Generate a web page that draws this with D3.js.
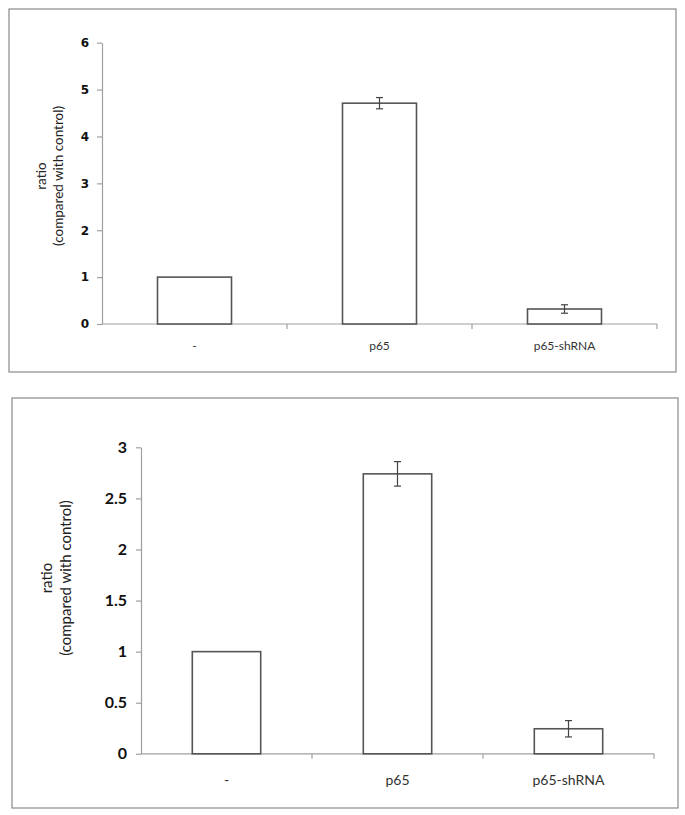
<!DOCTYPE html>
<html>
<head>
<meta charset="utf-8">
<script src="https://cdn.jsdelivr.net/npm/d3@7"></script>
<style>
  body { margin: 0; background: #fff; }
  .frame { fill: none; stroke: #8a8a8a; stroke-width: 1.2; }
  .axis path, .axis line { stroke: #a0a0a0; stroke-width: 1.2; }
  .bar { fill: #fff; stroke: #555; stroke-width: 1.6; }
  .err { stroke: #444; stroke-width: 1.2; }
</style>
</head>
<body>
<div class="chart"></div>
<script>
// data
const categories = ['-', 'p65', 'p65-shRNA'];
const valuesA = [1.0, 4.71, 0.32];
const errorsA = [0, 0.12, 0.09];
const ticksA = [0, 1, 2, 3, 4, 5, 6];
const valuesB = [1.0, 2.74, 0.245];
const errorsB = [0, 0.12, 0.08];
const ticksB = [0, 0.5, 1, 1.5, 2, 2.5, 3];
const yTitle = ['ratio', '(compared with control)'];

const svg = d3.select('.chart')
  .append('svg')
  .attr('width', 685)
  .attr('height', 815);

function drawPanel(p) {
  // outer box
  svg.append('rect')
    .attr('class', 'frame')
    .attr('x', p.frame[0]).attr('y', p.frame[1])
    .attr('width', p.frame[2]).attr('height', p.frame[3]);

  const g = svg.append('g')
    .attr('transform', `translate(${p.left},${p.top})`);

  const xScale = d3.scaleBand()
    .domain(categories)
    .range([0, p.width])
    .paddingInner(0.6)
    .paddingOuter(0.3);

  const yScale = d3.scaleLinear()
    .domain([0, d3.max(p.ticks)])
    .range([p.height, 0]);

  // y axis
  const yAxis = g.append('g')
    .attr('class', 'axis')
    .call(d3.axisLeft(yScale).tickValues(p.ticks).tickSize(5).tickSizeOuter(0).tickPadding(p.tickPad).tickFormat(d3.format('')));
  yAxis.selectAll('text')
    .attr('font-family', p.tickFont)
    .attr('font-weight', 'bold')
    .attr('font-size', p.tickSize)
    .attr('fill', '#111');

  // x axis: line + ticks on band boundaries
  const xAxis = g.append('g')
    .attr('class', 'axis')
    .attr('transform', `translate(0,${p.height})`);
  xAxis.append('path')
    .attr('d', `M0,0H${p.width}`);
  const step = xScale.step();
  xAxis.selectAll('line')
    .data(d3.range(1, categories.length + 1))
    .enter()
    .append('line')
    .attr('x1', i => i * step).attr('x2', i => i * step)
    .attr('y1', 0).attr('y2', 5);
  xAxis.selectAll('text')
    .data(categories)
    .enter()
    .append('text')
    .attr('x', d => xScale(d) + xScale.bandwidth() / 2)
    .attr('y', p.catY)
    .attr('text-anchor', 'middle')
    .attr('font-family', 'Lato, sans-serif')
    .attr('font-size', p.catSize)
    .attr('fill', '#333')
    .text(d => d);

  // bars
  g.selectAll('.bar')
    .data(p.values)
    .enter()
    .append('rect')
    .attr('class', 'bar')
    .attr('x', (d, i) => xScale(categories[i]))
    .attr('y', d => yScale(d))
    .attr('width', xScale.bandwidth())
    .attr('height', d => p.height - yScale(d));

  // error bars
  const errData = p.values.map((v, i) => ({ c: categories[i], v: v, e: p.errors[i] })).filter(d => d.e > 0);
  const eg = g.selectAll('.errg')
    .data(errData)
    .enter()
    .append('g')
    .attr('class', 'err');
  eg.append('line')
    .attr('x1', d => xScale(d.c) + xScale.bandwidth() / 2)
    .attr('x2', d => xScale(d.c) + xScale.bandwidth() / 2)
    .attr('y1', d => yScale(d.v + d.e))
    .attr('y2', d => yScale(d.v - d.e));
  [1, -1].forEach(s => {
    eg.append('line')
      .attr('x1', d => xScale(d.c) + xScale.bandwidth() / 2 - 3.5)
      .attr('x2', d => xScale(d.c) + xScale.bandwidth() / 2 + 3.5)
      .attr('y1', d => yScale(d.v + s * d.e))
      .attr('y2', d => yScale(d.v + s * d.e));
  });

  // y title
  const t = svg.append('text')
    .attr('transform', `translate(${p.titleX},${p.titleY}) rotate(-90)`)
    .attr('text-anchor', 'middle')
    .attr('font-family', 'Lato, sans-serif')
    .attr('font-size', p.titleSize)
    .attr('fill', '#222');
  yTitle.forEach((line, i) => {
    t.append('tspan')
      .attr('x', 0)
      .attr('dy', i === 0 ? 0 : p.titleLine)
      .text(line);
  });
}

drawPanel({
  frame: [9, 9, 667, 363],
  left: 102, top: 42.7, width: 555, height: 281.3,
  values: valuesA, errors: errorsA, ticks: ticksA,
  tickFont: 'DejaVu Sans, sans-serif', tickSize: 12, tickPad: 8,
  catY: 26, catSize: 12,
  titleX: 46, titleY: 176, titleSize: 13.5, titleLine: 17
});

drawPanel({
  frame: [12, 398, 666, 410],
  left: 141, top: 447.3, width: 513, height: 306.5,
  values: valuesB, errors: errorsB, ticks: ticksB,
  tickFont: 'Lato, sans-serif', tickSize: 16, tickPad: 9,
  catY: 31, catSize: 14,
  titleX: 52, titleY: 578, titleSize: 15, titleLine: 19
});
</script>
</body>
</html>
